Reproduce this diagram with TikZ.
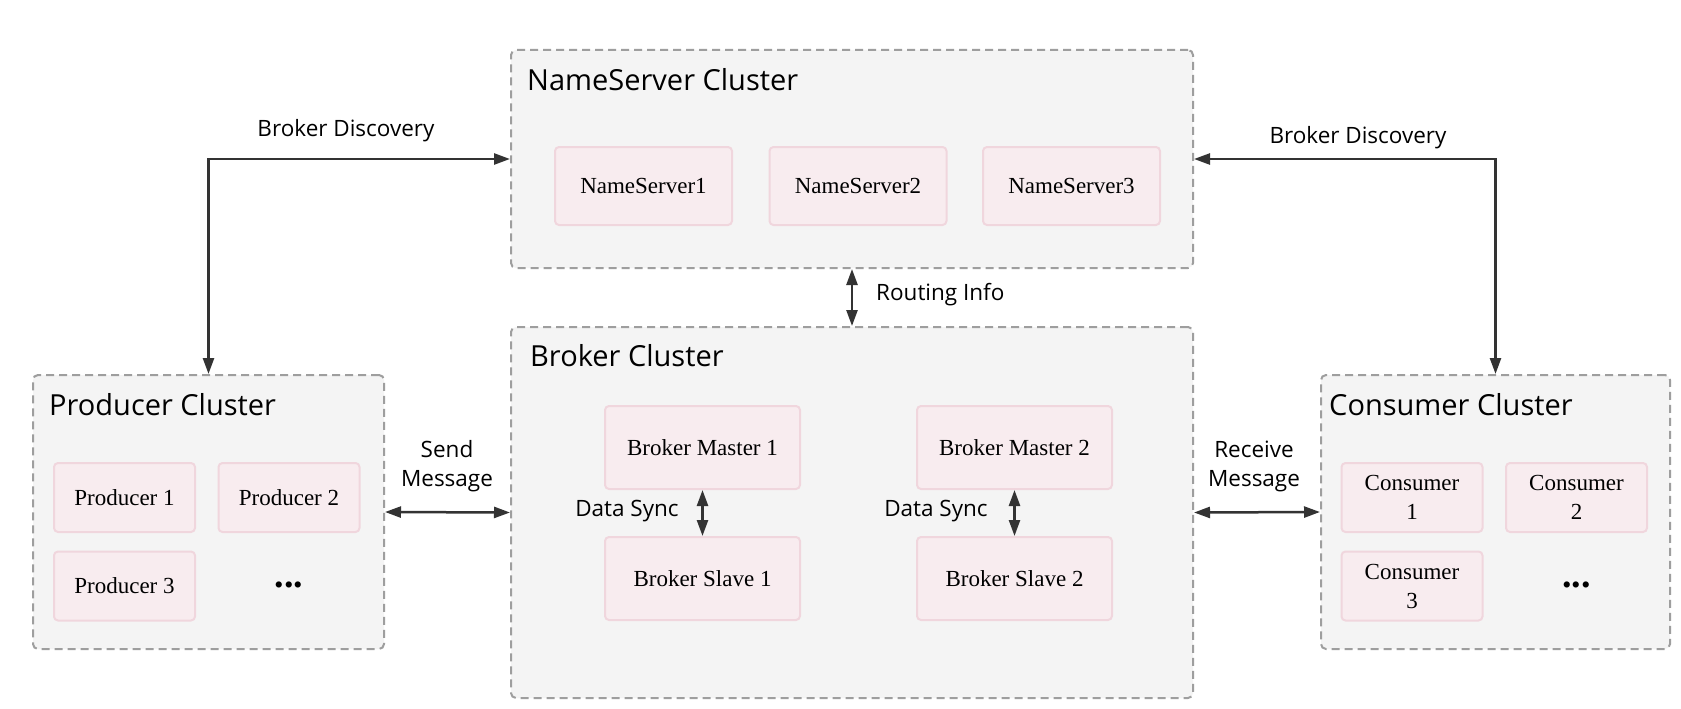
\documentclass[tikz,border=0pt]{standalone}
\usepackage{fontspec}
\newfontfamily\uifont{Open Sans}
\newfontfamily\serifbox{Liberation Serif}
\usetikzlibrary{arrows.meta}
\definecolor{clfill}{HTML}{F4F4F4}
\definecolor{cldraw}{HTML}{9E9E9E}
\definecolor{inFill}{HTML}{F8ECEF}
\definecolor{inDraw}{HTML}{F0D6DD}
\definecolor{arrcol}{HTML}{333333}
\begin{document}
\begin{tikzpicture}[x=1pt,y=-1pt,
  cluster/.style={draw=cldraw, fill=clfill, line width=2pt, dash pattern=on 8pt off 5pt, rounded corners=5pt, inner sep=0pt},
  inbox/.style={draw=inDraw, fill=inFill, line width=2pt, rounded corners=4pt, inner sep=0pt, font=\serifbox\fontsize{23}{29}\selectfont, align=center},
  dots/.style={inner sep=0pt, font=\serifbox\bfseries\fontsize{38}{38}\selectfont},
  ctitle/.style={anchor=west, inner sep=0pt, font=\uifont\fontsize{29}{34}\selectfont},
  elabel/.style={inner sep=0pt, font=\uifont\fontsize{22.5}{29}\selectfont, align=center},
  arr/.style={draw=arrcol, line width=2.5pt, {Triangle[length=16pt,width=11pt]}-{Triangle[length=16pt,width=11pt]}}
]
\useasboundingbox (0,0) rectangle (1681,709);
\fill[white] (0,0) rectangle (1681,709);

% clusters
\node[cluster, minimum width=682pt, minimum height=218pt] (ns) at (852,159) {};
\node[cluster, minimum width=682pt, minimum height=371pt] (br) at (852,512.5) {};
\node[cluster, minimum width=351pt, minimum height=274pt] (pc) at (208.5,512) {};
\node[cluster, minimum width=349pt, minimum height=274pt] (cc) at (1495.5,512) {};

\node[ctitle] (nst) at (527,80) {NameServer Cluster};
\node[ctitle] (brt) at (530,356) {Broker Cluster};
\node[ctitle] (pct) at (49,405) {Producer Cluster};
\node[ctitle] (cct) at (1329,405) {Consumer Cluster};

% nameservers
\node[inbox, minimum width=177pt, minimum height=78pt] (ns1) at (643.5,186) {NameServer1};
\node[inbox, minimum width=177pt, minimum height=78pt] (ns2) at (858,186) {NameServer2};
\node[inbox, minimum width=177pt, minimum height=78pt] (ns3) at (1071.5,186) {NameServer3};

% brokers
\node[inbox, minimum width=195pt, minimum height=83pt] (bm1) at (702.5,447.5) {Broker Master 1};
\node[inbox, minimum width=195pt, minimum height=83pt] (bs1) at (702.5,578.5) {Broker Slave 1};
\node[inbox, minimum width=195pt, minimum height=83pt] (bm2) at (1014.5,447.5) {Broker Master 2};
\node[inbox, minimum width=195pt, minimum height=83pt] (bs2) at (1014.5,578.5) {Broker Slave 2};

% producers
\node[inbox, minimum width=141pt, minimum height=69pt] (p1) at (124.5,497.5) {Producer 1};
\node[inbox, minimum width=141pt, minimum height=69pt] (p2) at (289,497.5) {Producer 2};
\node[inbox, minimum width=141pt, minimum height=69pt] (p3) at (124.5,586) {Producer 3};
\node[dots] (pd) at (289,585) {...};

% consumers
\node[inbox, minimum width=141pt, minimum height=69pt] (c1) at (1412,497.5) {Consumer\\1};
\node[inbox, minimum width=141pt, minimum height=69pt] (c2) at (1576.5,497.5) {Consumer\\2};
\node[inbox, minimum width=141pt, minimum height=69pt] (c3) at (1412,586) {Consumer\\3};
\node[dots] (cd) at (1576.5,585) {...};

% connectors
\draw[arr] (pc.north) |- (ns.west);
\draw[arr] (ns.east) -| (cc.north);
\draw[arr] (ns.south) -- (br.north);
\draw[arr] (pc.east) -- (br.west);
\draw[arr] (br.east) -- (cc.west);
\draw[arr] (bm1.south) -- (bs1.north);
\draw[arr] (bm2.south) -- (bs2.north);

% labels
\node[elabel] (l1) at (346,131) {Broker Discovery};
\node[elabel] (l2) at (1358,138) {Broker Discovery};
\node[elabel, anchor=west] (l3) at (876,295) {Routing Info};
\node[elabel] (l4) at (447,466) {Send\\Message};
\node[elabel] (l5) at (1254,466) {Receive\\Message};
\node[elabel] (l6) at (627,511) {Data Sync};
\node[elabel] (l7) at (936,511) {Data Sync};
\end{tikzpicture}
\end{document}
